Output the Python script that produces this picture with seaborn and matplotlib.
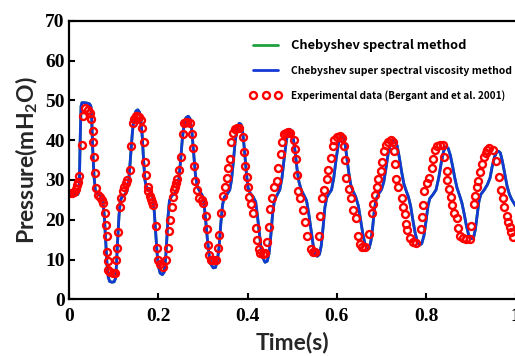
import numpy as np
import pandas as pd
import matplotlib
matplotlib.use('Agg')
import matplotlib.pyplot as plt
from matplotlib import font_manager
import seaborn as sns
import os

# Numerical solution (Chebyshev super spectral viscosity)
blue_t = [0.000, 0.010, 0.020, 0.023, 0.025, 0.027, 0.029, 0.035, 0.040, 0.046,
          0.049, 0.051, 0.053, 0.056, 0.059, 0.063, 0.068, 0.073, 0.076, 0.079,
          0.082, 0.085, 0.088, 0.091, 0.096, 0.101, 0.104, 0.106, 0.109, 0.112,
          0.115, 0.119, 0.125, 0.130, 0.134, 0.138, 0.142, 0.146, 0.150, 0.154,
          0.158, 0.161, 0.164, 0.167, 0.170, 0.173, 0.178, 0.184, 0.188, 0.191,
          0.194, 0.197, 0.200, 0.204, 0.209, 0.213, 0.216, 0.219, 0.222, 0.225,
          0.230, 0.236, 0.242, 0.246, 0.250, 0.254, 0.258, 0.262, 0.267, 0.271,
          0.275, 0.279, 0.283, 0.287, 0.292, 0.298, 0.302, 0.306, 0.310, 0.314,
          0.318, 0.323, 0.328, 0.332, 0.336, 0.340, 0.344, 0.348, 0.354, 0.360,
          0.364, 0.368, 0.372, 0.376, 0.381, 0.385, 0.389, 0.393, 0.397, 0.401,
          0.406, 0.412, 0.418, 0.422, 0.426, 0.430, 0.434, 0.439, 0.444, 0.448,
          0.452, 0.456, 0.460, 0.466, 0.472, 0.477, 0.482, 0.487, 0.491, 0.495,
          0.499, 0.503, 0.507, 0.511, 0.515, 0.520, 0.526, 0.532, 0.537, 0.542,
          0.547, 0.551, 0.556, 0.561, 0.565, 0.569, 0.573, 0.577, 0.582, 0.588,
          0.593, 0.598, 0.603, 0.607, 0.611, 0.615, 0.619, 0.623, 0.627, 0.631,
          0.636, 0.642, 0.648, 0.653, 0.658, 0.663, 0.668, 0.672, 0.676, 0.680,
          0.684, 0.688, 0.694, 0.700, 0.705, 0.710, 0.715, 0.720, 0.725, 0.730,
          0.735, 0.740, 0.745, 0.750, 0.755, 0.760, 0.765, 0.770, 0.775, 0.780,
          0.785, 0.790, 0.795, 0.800, 0.804, 0.808, 0.815, 0.822, 0.828, 0.834,
          0.839, 0.844, 0.849, 0.854, 0.859, 0.864, 0.869, 0.875, 0.880, 0.885,
          0.890, 0.895, 0.901, 0.906, 0.910, 0.914, 0.918, 0.922, 0.930, 0.937,
          0.943, 0.948, 0.953, 0.958, 0.962, 0.966, 0.971, 0.976, 0.981, 0.986,
          0.991, 1.000]
blue_p = [26.8, 26.5, 26.4, 28.0, 40.0, 48.5, 49.4, 49.4, 49.3, 49.1,
          48.5, 45.0, 38.0, 31.0, 27.3, 26.6, 26.3, 25.7, 24.5, 21.0,
          15.0, 9.0, 5.5, 4.5, 4.3, 4.4, 5.2, 8.0, 15.0, 21.0,
          24.8, 25.8, 26.3, 27.2, 30.0, 36.0, 42.0, 45.8, 47.3, 47.6,
          47.0, 45.0, 41.0, 35.0, 30.0, 28.3, 27.6, 26.8, 25.5, 22.0,
          17.0, 12.0, 8.5, 6.6, 6.2, 6.8, 9.5, 15.0, 21.0, 24.8,
          26.0, 26.5, 27.5, 30.0, 35.0, 40.5, 44.0, 45.6, 46.0, 45.4,
          42.5, 37.0, 31.5, 28.5, 27.3, 26.2, 24.5, 20.0, 15.0, 11.0,
          8.8, 7.9, 8.0, 9.5, 13.0, 19.0, 23.8, 25.7, 26.4, 27.5,
          30.0, 34.5, 39.5, 42.6, 44.2, 44.0, 42.0, 37.5, 32.0, 28.0,
          26.6, 25.8, 24.5, 21.0, 17.0, 13.0, 10.5, 9.3, 9.6, 11.5,
          16.0, 21.5, 24.8, 26.2, 27.5, 30.5, 35.5, 40.0, 42.2, 42.7,
          42.2, 40.0, 36.5, 32.5, 29.5, 27.5, 26.2, 24.8, 21.5, 17.5,
          13.5, 11.5, 10.8, 11.3, 13.5, 18.0, 23.0, 25.5, 26.5, 27.5,
          30.5, 35.0, 38.8, 40.7, 41.2, 40.7, 38.5, 35.0, 31.5, 28.8,
          27.2, 25.8, 23.5, 20.0, 16.5, 13.8, 12.6, 12.8, 14.5, 18.0,
          22.5, 25.2, 26.6, 27.6, 29.5, 33.0, 36.8, 39.0, 40.0, 40.0,
          38.5, 35.5, 32.0, 29.0, 27.3, 25.8, 23.5, 20.0, 16.8, 14.5,
          13.6, 14.0, 16.0, 20.0, 23.5, 25.3, 26.3, 27.5, 30.5, 34.5,
          37.2, 38.3, 38.0, 36.2, 33.5, 30.5, 28.0, 26.0, 24.2, 21.5,
          18.5, 16.2, 15.2, 15.5, 17.5, 21.0, 24.5, 26.3, 27.5, 28.8,
          30.5, 33.5, 35.8, 37.0, 37.2, 36.8, 34.5, 31.5, 28.5, 26.5,
          25.2, 23.5]

# Chebyshev spectral method coincides with the curve above (hidden under it)
green_t = blue_t
green_p = blue_p

# Experimental data (Bergant et al. 2001)
exp_t = [0.000, 0.006, 0.011, 0.016, 0.019, 0.021, 0.023, 0.028, 0.032, 0.036,
         0.043, 0.047, 0.049, 0.053, 0.054, 0.056, 0.058, 0.061, 0.065, 0.069,
         0.073, 0.077, 0.080, 0.082, 0.084, 0.086, 0.087, 0.088, 0.092, 0.098,
         0.104, 0.106, 0.108, 0.110, 0.114, 0.117, 0.120, 0.123, 0.127, 0.131,
         0.137, 0.139, 0.143, 0.146, 0.149, 0.153, 0.157, 0.161, 0.164, 0.167,
         0.170, 0.173, 0.176, 0.178, 0.181, 0.184, 0.187, 0.189, 0.194, 0.196,
         0.199, 0.204, 0.211, 0.217, 0.221, 0.224, 0.227, 0.230, 0.232, 0.235,
         0.237, 0.239, 0.243, 0.247, 0.250, 0.255, 0.258, 0.261, 0.265, 0.270,
         0.275, 0.277, 0.280, 0.282, 0.286, 0.292, 0.297, 0.301, 0.306, 0.308,
         0.312, 0.314, 0.318, 0.323, 0.329, 0.334, 0.337, 0.340, 0.344, 0.349,
         0.353, 0.357, 0.361, 0.363, 0.368, 0.372, 0.376, 0.381, 0.389, 0.392,
         0.395, 0.398, 0.400, 0.404, 0.408, 0.413, 0.419, 0.422, 0.425, 0.428,
         0.434, 0.440, 0.444, 0.447, 0.450, 0.454, 0.459, 0.465, 0.469, 0.474,
         0.478, 0.482, 0.486, 0.491, 0.495, 0.504, 0.506, 0.508, 0.510, 0.512,
         0.517, 0.525, 0.528, 0.534, 0.542, 0.546, 0.551, 0.560, 0.562, 0.566,
         0.570, 0.577, 0.581, 0.587, 0.592, 0.594, 0.600, 0.606, 0.611, 0.617,
         0.618, 0.621, 0.626, 0.632, 0.637, 0.642, 0.648, 0.652, 0.657, 0.664,
         0.672, 0.679, 0.681, 0.685, 0.689, 0.693, 0.699, 0.702, 0.706, 0.710,
         0.715, 0.721, 0.725, 0.728, 0.731, 0.733, 0.736, 0.745, 0.749, 0.752,
         0.755, 0.758, 0.764, 0.770, 0.778, 0.788, 0.790, 0.792, 0.796, 0.801,
         0.806, 0.812, 0.816, 0.820, 0.825, 0.831, 0.838, 0.840, 0.846, 0.847,
         0.852, 0.855, 0.857, 0.863, 0.870, 0.872, 0.876, 0.882, 0.889, 0.897,
         0.901, 0.906, 0.909, 0.913, 0.917, 0.920, 0.924, 0.929, 0.934, 0.937,
         0.941, 0.950, 0.956, 0.962, 0.968, 0.971, 0.975, 0.980, 0.984, 0.988,
         0.991, 0.995]
exp_p = [26.8, 26.8, 27.0, 27.6, 28.7, 29.5, 31.0, 38.8, 46.1, 48.0,
         47.6, 46.9, 45.2, 42.4, 39.4, 35.7, 31.8, 27.9, 26.2, 25.6,
         25.0, 24.3, 21.8, 18.7, 15.9, 12.0, 9.5, 7.4, 6.9, 6.7,
         6.5, 9.9, 12.8, 17.0, 23.3, 25.4, 27.1, 28.1, 29.1, 30.0,
         32.5, 38.5, 44.2, 45.2, 46.0, 46.1, 45.7, 45.0, 43.0, 39.4,
         34.4, 31.3, 28.3, 27.1, 26.0, 25.1, 24.5, 23.7, 18.4, 12.8,
         10.0, 8.8, 8.2, 10.0, 13.0, 17.2, 19.9, 23.3, 25.6, 27.5,
         28.3, 29.3, 30.2, 32.5, 35.8, 41.5, 44.2, 44.5, 44.5, 44.2,
         41.5, 37.9, 33.5, 29.8, 27.5, 25.4, 25.0, 24.1, 20.9, 17.6,
         13.7, 11.1, 9.9, 9.9, 9.9, 12.8, 16.2, 21.6, 26.0, 28.3,
         30.4, 32.9, 35.2, 39.4, 41.7, 42.7, 43.0, 43.0, 40.7, 37.1,
         33.5, 30.7, 28.3, 25.8, 23.9, 21.8, 17.8, 14.9, 12.6, 11.6,
         11.4, 11.6, 14.5, 18.1, 22.6, 25.4, 28.3, 29.8, 32.9, 36.4,
         39.4, 41.5, 41.9, 42.1, 41.9, 39.9, 37.7, 35.2, 31.2, 27.1,
         25.4, 22.4, 19.5, 15.9, 12.6, 12.0, 12.0, 15.9, 20.9, 25.4,
         27.5, 30.2, 32.5, 35.6, 38.4, 40.0, 40.9, 41.0, 40.6, 38.5,
         35.0, 30.4, 27.6, 25.4, 22.4, 20.4, 15.9, 13.9, 13.2, 13.2,
         16.4, 21.8, 24.0, 26.2, 28.3, 30.2, 32.3, 34.6, 37.3, 38.8,
         39.6, 39.9, 39.6, 37.3, 34.0, 30.2, 28.1, 25.4, 23.3, 21.4,
         18.9, 17.4, 15.5, 14.4, 14.2, 17.6, 20.6, 23.7, 27.3, 29.3,
         30.5, 32.9, 35.2, 37.5, 38.5, 38.8, 38.8, 35.8, 32.2, 30.0,
         27.6, 25.6, 23.7, 21.8, 20.4, 18.0, 16.0, 15.3, 15.1, 15.1,
         18.4, 24.0, 26.0, 28.1, 29.8, 31.9, 34.0, 35.8, 36.7, 37.5,
         37.9, 37.5, 34.8, 30.7, 27.5, 25.4, 23.1, 20.9, 19.3, 18.1,
         16.8, 15.7]

x_ticks = [0, 0.2, 0.4, 0.6, 0.8, 1.0]
x_tick_labels = ['0', '0.2', '0.4', '0.6', '0.8', '1']
y_ticks = [0, 10, 20, 30, 40, 50, 60, 70]

labels = ['Chebyshev spectral method',
          'Chebyshev super spectral viscosity method',
          'Experimental data (Bergant and et al. 2001)']
# pixel widths of the three legend texts in the original picture
legend_text_widths = [176, 221, 214]

sns.set_style('ticks')
plt.rcParams['mathtext.default'] = 'regular'
plt.rcParams['xtick.direction'] = 'in'
plt.rcParams['ytick.direction'] = 'in'


def pick_condensed_bold():
    """Find the narrowest installed bold sans face (legend uses a condensed font)."""
    files = font_manager.findSystemFonts()
    wanted = ['ExtraCondensedBold', 'CondensedBold', 'SemiCondensedBold']
    for key in wanted:
        for f in sorted(files):
            name = os.path.basename(f)
            if name.startswith(('NotoSans-', 'OpenSans', 'DejaVuSansCondensed-Bold')) \
                    and key in name and 'Semi' not in name.replace('SemiCondensedBold', '') \
                    and (key != 'CondensedBold' or ('Extra' not in name and 'Semi' not in name)):
                return font_manager.FontProperties(fname=f, size=9)
    return font_manager.FontProperties(family='Noto Sans CJK JP', weight='bold', size=8)


legend_prop = pick_condensed_bold()

fig = plt.figure(figsize=(5.15, 3.56), dpi=100)
ax = fig.add_axes([69 / 515, (356 - 299.3) / 356, 446.5 / 515, 278.6 / 356])

sns.lineplot(x=green_t, y=green_p, ax=ax, color='#1fa040', linewidth=2.0,
             label=labels[0])
sns.lineplot(x=blue_t, y=blue_p, ax=ax, color='#1438d4', linewidth=2.0,
             label=labels[1])
sns.lineplot(x=exp_t, y=exp_p, ax=ax, color='red', linestyle='none',
             marker='o', markersize=5.0, markerfacecolor='none',
             markeredgecolor='#ff0000', markeredgewidth=1.7, label=labels[2])

ax.set_xlim(0, 1)
ax.set_ylim(0, 70)
ax.set_xticks(x_ticks)
ax.set_xticklabels(x_tick_labels)
ax.set_yticks(y_ticks)

tick_font = dict(family='Liberation Serif', weight='bold', size=14)
for lab in ax.get_xticklabels() + ax.get_yticklabels():
    lab.set_fontproperties(tick_font)
ax.tick_params(axis='both', length=4, width=1.5, colors='black')
ax.tick_params(axis='x', pad=6)
ax.tick_params(axis='y', pad=3)

for side in ['left', 'bottom', 'top']:
    ax.spines[side].set_linewidth(1.6)
    ax.spines[side].set_color('black')
ax.spines['right'].set_visible(False)

label_font = dict(family='Lato', weight='bold', size=16.5)
ax.set_xlabel('Time(s)', fontdict=label_font, labelpad=5)
ax.set_ylabel('Pressure(mH$_2$O)', fontdict=label_font, labelpad=4)

fs = legend_prop.get_size_in_points() * 100 / 72
leg = ax.legend(loc='upper left', bbox_to_anchor=(0.405, 0.935),
                frameon=False, numpoints=3, handlelength=32 / fs,
                handletextpad=9 / fs, labelspacing=14 / fs, borderpad=0,
                borderaxespad=0, prop=legend_prop)

# size each legend text so it spans the same width as in the original
fig.canvas.draw()
renderer = fig.canvas.get_renderer()
for text, target in zip(leg.get_texts(), legend_text_widths):
    text.set_color('black')
    w = text.get_window_extent(renderer).width
    text.set_fontsize(min(text.get_fontsize() * target / w, 12))

fig.savefig('out.png', dpi=100)
